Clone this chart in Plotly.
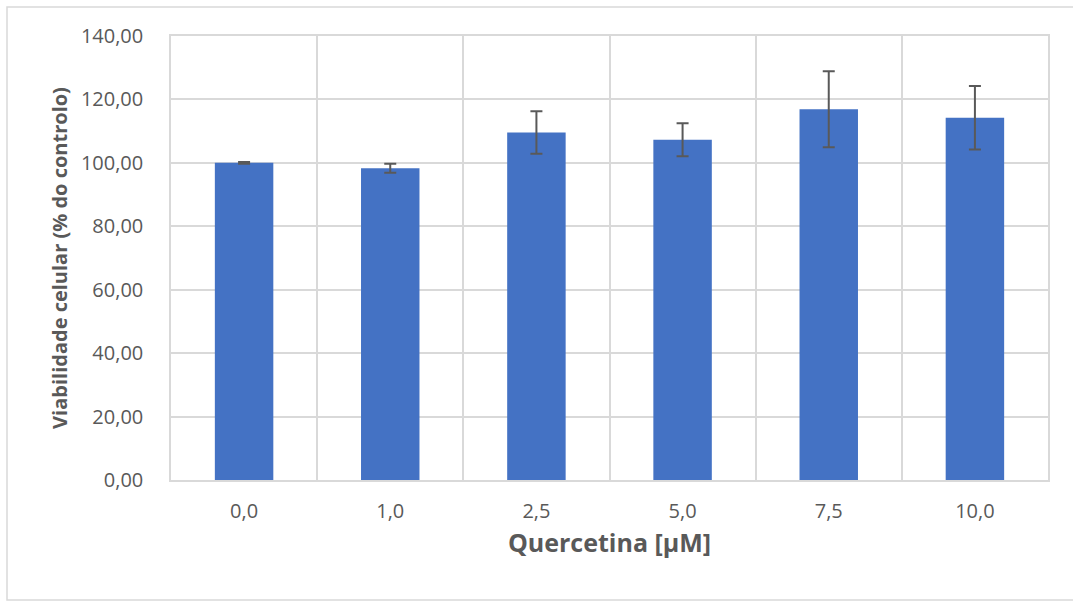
import plotly.graph_objects as go

conc_labels = ["0,0", "1,0", "2,5", "5,0", "7,5", "10,0"]
viability = [100.0, 98.3, 109.6, 107.3, 116.9, 114.2]
sd = [0.3, 1.4, 6.7, 5.2, 12.0, 10.0]
y_ticks = [0, 20, 40, 60, 80, 100, 120, 140]

W, H = 1073, 602
L, R, T, B = 171, 25, 36, 122
pw, ph = W - L - R, H - T - B

def px_x(x):
    return (x - L) / pw

def px_y(y):
    return (H - B - y) / ph

font_fam = "Open Sans, Noto Sans, sans-serif"
txt = "#595959"
grid = "#d9d9d9"

fig = go.Figure(go.Bar(
    x=conc_labels, y=viability,
    marker=dict(color="#4472C4", line=dict(width=0)),
    error_y=dict(type="data", array=sd, visible=True, color="#595959",
                 thickness=2, width=6),
    width=0.4,
))

fig.update_layout(
    width=W, height=H,
    margin=dict(l=L, r=R, t=T, b=B),
    paper_bgcolor="white", plot_bgcolor="white",
    separators=",.",
    showlegend=False,
    font=dict(family=font_fam, color=txt),
    shapes=[dict(type="rect", xref="paper", yref="paper",
                 x0=px_x(7), x1=px_x(1085), y0=px_y(600), y1=px_y(7),
                 line=dict(color="#d9d9d9", width=1.5), fillcolor="rgba(0,0,0,0)",
                 layer="below")],
)

fig.update_xaxes(
    type="category", tickson="boundaries",
    showgrid=True, gridcolor=grid, gridwidth=1.5,
    showline=True, linecolor=grid, linewidth=1.5, mirror=True,
    ticks="", tickfont=dict(size=20, color=txt, family=font_fam),
    ticklabelstandoff=12,
    title=dict(text="<b>Quercetina [µM]</b>", font=dict(size=25, color=txt, family=font_fam), standoff=12),
)

fig.update_yaxes(
    range=[0, 140], tickvals=y_ticks, tickformat=".2f",
    showgrid=True, gridcolor=grid, gridwidth=1.5,
    showline=True, linecolor=grid, linewidth=1.5, mirror=True,
    zeroline=False,
    ticks="", tickfont=dict(size=20, color=txt, family=font_fam),
    ticklabelstandoff=22,
    title=dict(text="<b>Viabilidade celular (% do controlo)</b>", font=dict(size=20, color=txt, family=font_fam), standoff=8),
)

fig.write_html("out.html", config={"displayModeBar": False},
               post_script="document.body.style.margin='0';document.body.style.overflow='hidden';")
